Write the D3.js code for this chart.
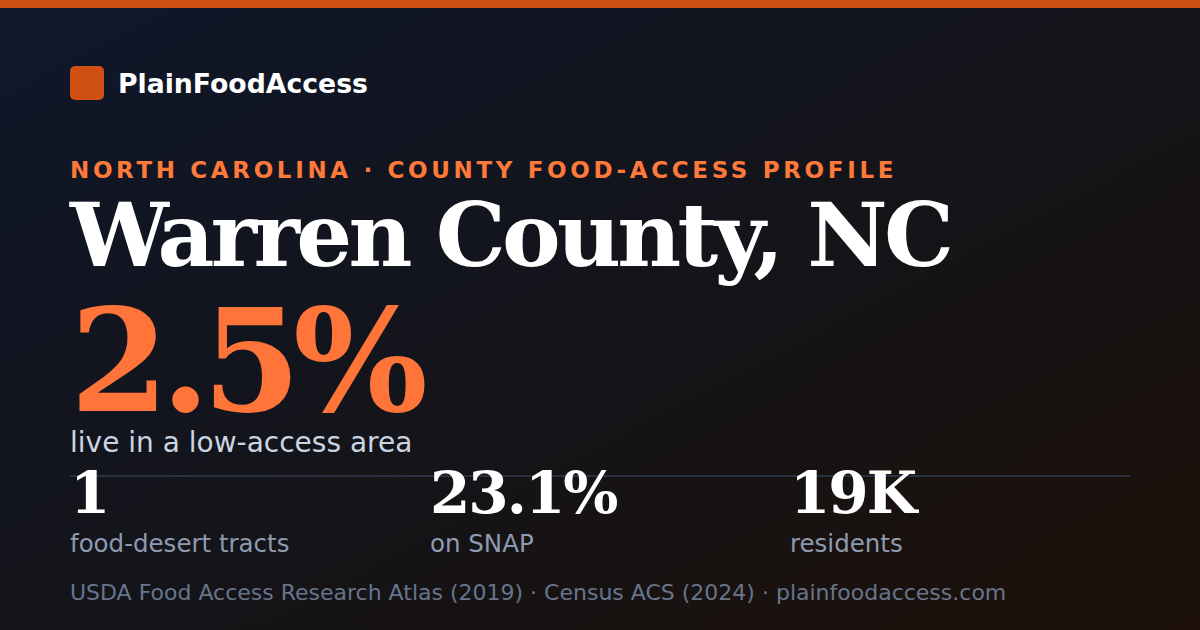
<!DOCTYPE html>
<html><head><meta charset="utf-8">
<script src="https://cdn.jsdelivr.net/npm/d3@7/dist/d3.min.js"></script>
<style>html,body{margin:0;padding:0;background:#111;}svg{display:block;}</style>
</head><body>
<script>
const brand = "PlainFoodAccess";
const kicker = "NORTH CAROLINA · COUNTY FOOD-ACCESS PROFILE";
const title = "Warren County, NC";
const headlineValue = "2.5%";
const headlineLabel = "live in a low-access area";
const statValues = ["1", "23.1%", "19K"];
const statLabels = ["food-desert tracts", "on SNAP", "residents"];
const footer = "USDA Food Access Research Atlas (2019) · Census ACS (2024) · plainfoodaccess.com";

const W = 1200, H = 630;
const svg = d3.select("body").append("svg").attr("width", W).attr("height", H);
const defs = svg.append("defs");
const g = defs.append("linearGradient").attr("id","bg").attr("x1","0").attr("y1","0").attr("x2","1").attr("y2","1");
g.append("stop").attr("offset","0%").attr("stop-color","#0f172a");
g.append("stop").attr("offset","50%").attr("stop-color","#14141a");
g.append("stop").attr("offset","100%").attr("stop-color","#1c1008");
svg.append("rect").attr("width",W).attr("height",H).attr("fill","url(#bg)");
svg.append("rect").attr("width",W).attr("height",8).attr("fill","#cf5010");

const sans = "'DejaVu Sans', sans-serif", serif = "'DejaVu Serif', serif";

svg.append("rect").attr("x",70).attr("y",66).attr("width",34).attr("height",34).attr("rx",5).attr("fill","#cf5010");
svg.append("text").attr("x",118).attr("y",93).attr("font-family",sans).attr("font-weight","bold")
  .attr("font-size",26.7).attr("fill","#ffffff").text(brand);

svg.append("text").attr("x",70).attr("y",178).attr("font-family",sans).attr("font-weight","bold")
  .attr("font-size",23).attr("letter-spacing",3.65).attr("fill","#ff7a3a").text(kicker);

svg.append("text").attr("x",70).attr("y",266).attr("font-family",serif).attr("font-weight","bold")
  .attr("font-size",88).attr("letter-spacing",-3.7).attr("fill","#ffffff").text(title);

svg.append("text").attr("x",70).attr("y",411).attr("font-family",serif).attr("font-weight","bold")
  .attr("font-size",142).attr("letter-spacing",-8).attr("fill","#ff7438").text(headlineValue);

svg.append("text").attr("x",70).attr("y",452).attr("font-family",sans)
  .attr("font-size",28).attr("fill","#cbd5e1").text(headlineLabel);

svg.append("line").attr("x1",70).attr("x2",1130).attr("y1",476).attr("y2",476)
  .attr("stroke","#2a303d").attr("stroke-width",2);

const x = d3.scaleBand().domain(d3.range(statValues.length)).range([70, 1150]).paddingInner(0);
const cols = svg.selectAll("g.stat").data(statValues.map((v,i)=>({v, l: statLabels[i], i})))
  .join("g").attr("class","stat").attr("transform", d => `translate(${x(d.i)},0)`);
cols.append("text").attr("y",513).attr("font-family",serif).attr("font-weight","bold")
  .attr("font-size",58).attr("letter-spacing",-2).attr("fill","#ffffff").text(d=>d.v);
cols.append("text").attr("y",552).attr("font-family",sans)
  .attr("font-size",24.5).attr("fill","#8e9ab0").text(d=>d.l);

svg.append("text").attr("x",70).attr("y",600).attr("font-family",sans)
  .attr("font-size",22).attr("fill","#67758c").text(footer);
</script>
</body></html>
